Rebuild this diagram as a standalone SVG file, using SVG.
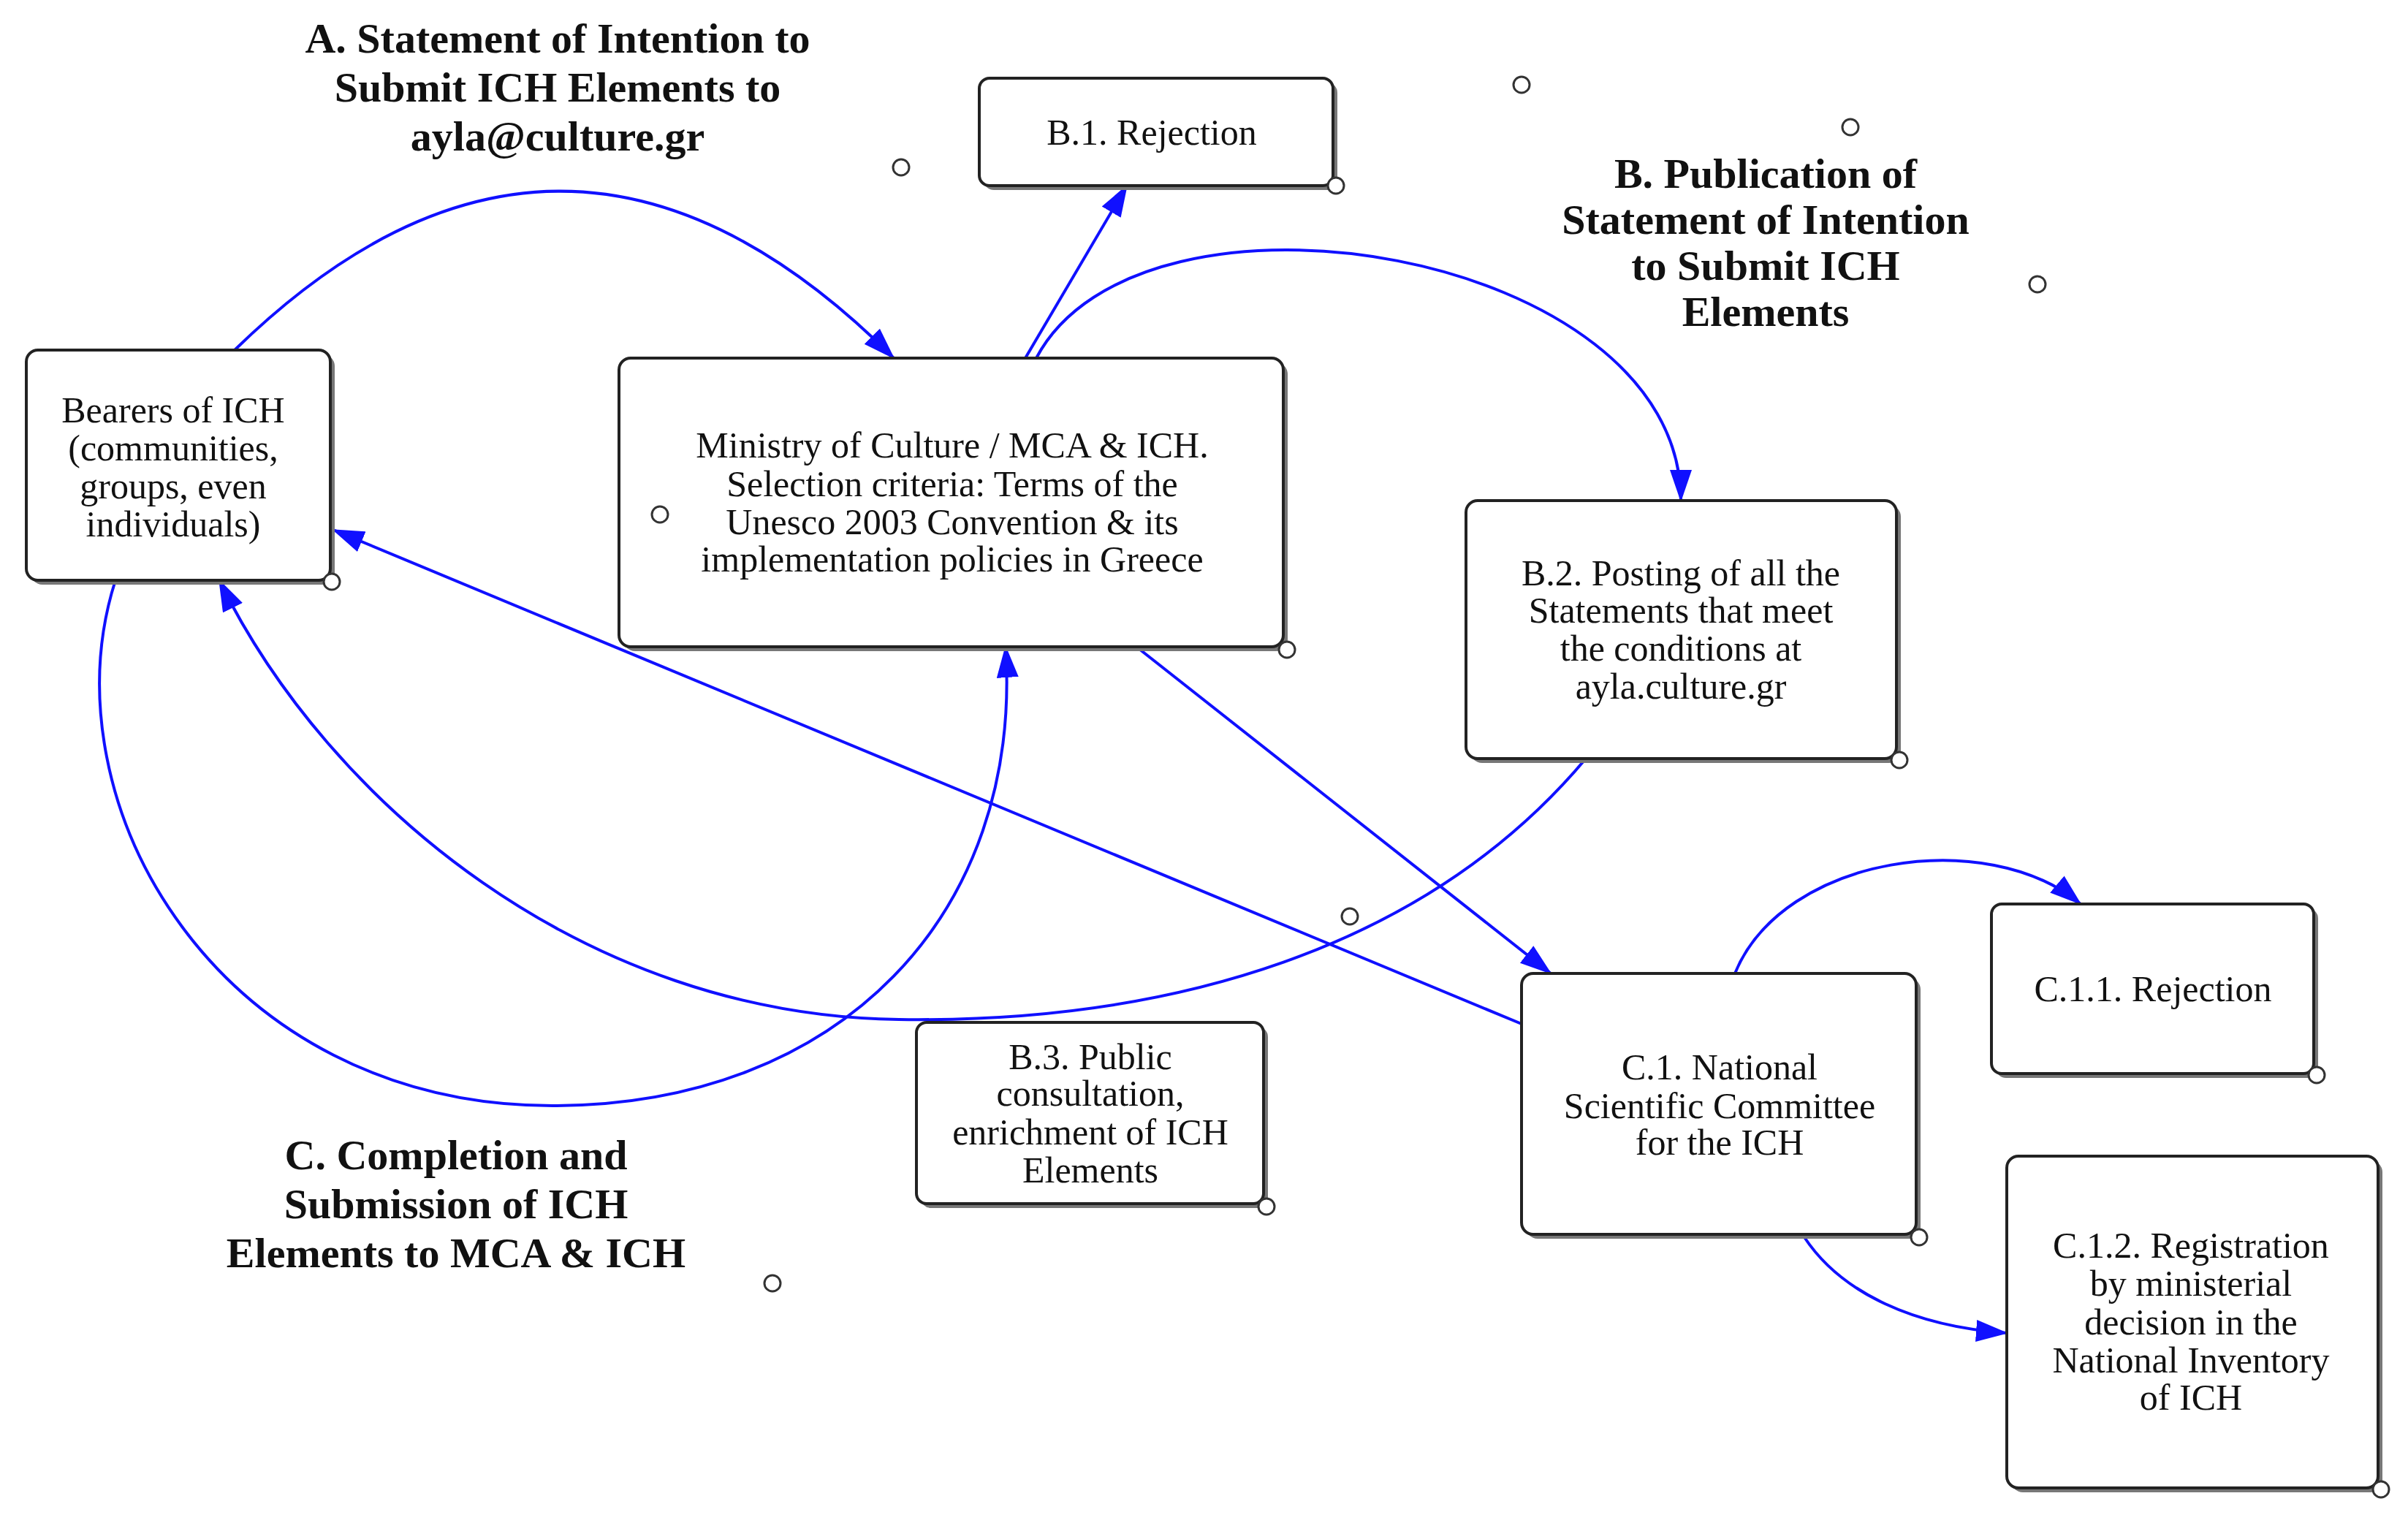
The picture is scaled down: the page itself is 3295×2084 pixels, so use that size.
<svg xmlns="http://www.w3.org/2000/svg" width="3295" height="2084" viewBox="0 0 3295 2084">
<style>
.box{fill:#fff;stroke:#222;stroke-width:4}
.sh{fill:#777}
.t{font-family:"Liberation Serif",serif;font-size:50px;text-anchor:middle;fill:#111}
.h{font-family:"Liberation Serif",serif;font-size:58px;font-weight:bold;text-anchor:middle;fill:#111}
.c{fill:#fff;stroke:#333;stroke-width:3}
.e{fill:none;stroke:#1010ff;stroke-width:4}
</style>
<defs>
<marker id="a" markerUnits="userSpaceOnUse" markerWidth="44" markerHeight="30" refX="42" refY="15" orient="auto">
<path d="M0,0 L44,15 L0,30 Z" fill="#1010ff"/>
</marker>
</defs>
<rect width="3295" height="2084" fill="#fff"/>
<g id="titleA"><text class="h" x="763" y="72">A. Statement of Intention to</text><text class="h" x="763" y="139">Submit  ICH Elements to</text><text class="h" x="763" y="206">ayla@culture.gr</text></g>
<g id="titleB"><text class="h" x="2416" y="257">B. Publication of</text><text class="h" x="2416" y="320">Statement of Intention</text><text class="h" x="2416" y="383">to Submit ICH</text><text class="h" x="2416" y="446">Elements</text></g>
<g id="titleC"><text class="h" x="624" y="1600">C. Completion and</text><text class="h" x="624" y="1667">Submission of ICH</text><text class="h" x="624" y="1734">Elements to MCA &amp; ICH</text></g>
<g id="connectors">
<path class="e" d="M321,479 Q772,39 1223,490" marker-end="url(#a)"/>
<path class="e" d="M1403,490 L1542,254" marker-end="url(#a)"/>
<path class="e" d="M1418,490 C1560,220 2300,340 2300,685" marker-end="url(#a)"/>
<path class="e" d="M1555,885 L2122,1332" marker-end="url(#a)"/>
<path class="e" d="M2082,1401 L456,725" marker-end="url(#a)"/>
<path class="e" d="M158,794 C60,1100 300,1513 756,1513 C1150,1513 1400,1250 1376,885" marker-end="url(#a)"/>
<path class="e" d="M2170,1038 C1950,1300 1600,1400 1230,1395 C800,1390 450,1100 300,794" marker-end="url(#a)"/>
<path class="e" d="M2374,1332 C2440,1170 2720,1130 2847,1237" marker-end="url(#a)"/>
<path class="e" d="M2469,1693 C2520,1770 2620,1815 2746,1824" marker-end="url(#a)"/>
</g>
<g id="bearers"><rect class="sh" x="42" y="485" width="416" height="315" rx="16"/><rect class="box" x="36" y="479" width="416" height="315" rx="16"/>
<text class="t" x="237" y="578">Bearers of ICH</text><text class="t" x="237" y="630">(communities,</text><text class="t" x="237" y="682">groups, even</text><text class="t" x="237" y="734">individuals)</text></g>
<g id="ministry"><rect class="sh" x="853" y="496" width="909" height="395" rx="16"/><rect class="box" x="847" y="490" width="909" height="395" rx="16"/>
<text class="t" x="1303" y="626">Ministry of Culture / MCA &amp; ICH.</text><text class="t" x="1303" y="679">Selection criteria: Terms of the</text><text class="t" x="1303" y="731">Unesco 2003 Convention &amp; its</text><text class="t" x="1303" y="782">implementation policies in Greece</text></g>
<g id="b1"><rect class="sh" x="1346" y="113" width="484" height="147" rx="14"/><rect class="box" x="1340" y="107" width="484" height="147" rx="14"/><text class="t" x="1576" y="198">B.1. Rejection</text></g>
<g id="b2"><rect class="sh" x="2012" y="691" width="589" height="353" rx="16"/><rect class="box" x="2006" y="685" width="589" height="353" rx="16"/>
<text class="t" x="2300" y="801">B.2. Posting of all the</text><text class="t" x="2300" y="852">Statements that meet</text><text class="t" x="2300" y="904">the conditions at</text><text class="t" x="2300" y="956">ayla.culture.gr</text></g>
<g id="b3"><rect class="sh" x="1260" y="1405" width="475" height="248" rx="14"/><rect class="box" x="1254" y="1399" width="475" height="248" rx="14"/>
<text class="t" x="1492" y="1463">B.3. Public</text><text class="t" x="1492" y="1513">consultation,</text><text class="t" x="1492" y="1566">enrichment of ICH</text><text class="t" x="1492" y="1618">Elements</text></g>
<g id="c1"><rect class="sh" x="2088" y="1338" width="540" height="357" rx="16"/><rect class="box" x="2082" y="1332" width="540" height="357" rx="16"/>
<text class="t" x="2353" y="1477">C.1. National</text><text class="t" x="2353" y="1530">Scientific Committee</text><text class="t" x="2353" y="1580">for the ICH</text></g>
<g id="c11"><rect class="sh" x="2731" y="1243" width="441" height="232" rx="14"/><rect class="box" x="2725" y="1237" width="441" height="232" rx="14"/><text class="t" x="2946" y="1370">C.1.1. Rejection</text></g>
<g id="c12"><rect class="sh" x="2752" y="1588" width="508" height="454" rx="16"/><rect class="box" x="2746" y="1582" width="508" height="454" rx="16"/>
<text class="t" x="2998" y="1721">C.1.2. Registration</text><text class="t" x="2998" y="1773">by ministerial</text><text class="t" x="2998" y="1826">decision in the</text><text class="t" x="2998" y="1878">National Inventory</text><text class="t" x="2998" y="1929">of ICH</text></g>
<g id="dots">
<circle class="c" cx="1233" cy="229" r="11"/><circle class="c" cx="2082" cy="116" r="11"/><circle class="c" cx="2532" cy="174" r="11"/><circle class="c" cx="2788" cy="389" r="11"/><circle class="c" cx="903" cy="704" r="11"/><circle class="c" cx="1847" cy="1254" r="11"/><circle class="c" cx="1057" cy="1756" r="11"/>
<circle class="c" cx="454" cy="796" r="11"/><circle class="c" cx="1761" cy="889" r="11"/><circle class="c" cx="1828" cy="254" r="11"/><circle class="c" cx="2599" cy="1040" r="11"/><circle class="c" cx="1733" cy="1651" r="11"/><circle class="c" cx="2626" cy="1693" r="11"/><circle class="c" cx="3170" cy="1471" r="11"/><circle class="c" cx="3258" cy="2038" r="11"/>
</g>
</svg>
